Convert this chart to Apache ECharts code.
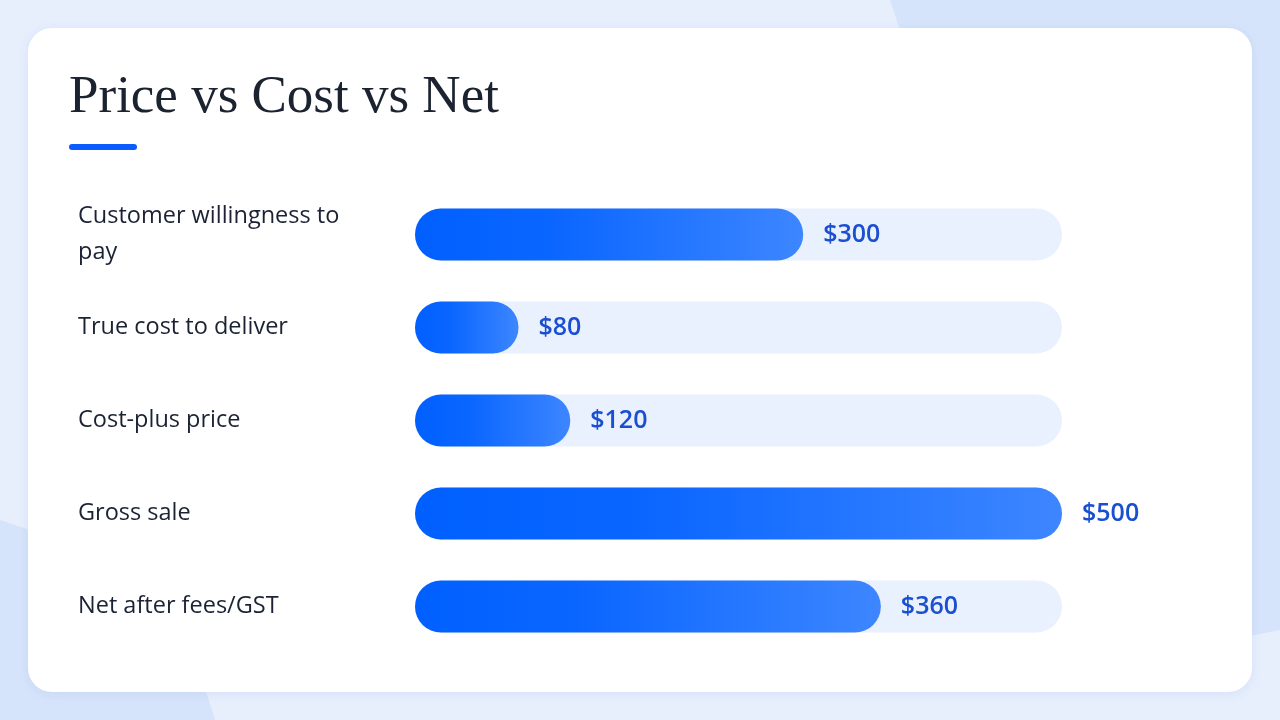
<!DOCTYPE html>
<html>
<head>
<meta charset="utf-8">
<script src="https://cdn.jsdelivr.net/npm/echarts@6/dist/echarts.min.js"></script>
<style>
  html,body{margin:0;padding:0;width:1280px;height:720px;overflow:hidden;background:#e7effd;}
  #chart{width:1280px;height:720px;}
</style>
</head>
<body>
<div id="chart"></div>
<script>
const title = 'Price vs Cost vs Net';
const categories = ['Customer willingness to pay', 'True cost to deliver', 'Cost-plus price', 'Gross sale', 'Net after fees/GST'];
const values = [300, 80, 120, 500, 360];
const axisMax = 500;

const chart = echarts.init(document.getElementById('chart'), null, {renderer: 'canvas'});
const labelFont = '"Open Sans", "Noto Sans", sans-serif';

const option = {
  animation: false,
  backgroundColor: '#e7effd',
  graphic: [
    {type: 'polygon', z: -10, silent: true, shape: {points: [[890,0],[1280,0],[1280,630],[1230,640],[1200,600],[1200,210],[1000,190],[930,120]]}, style: {fill: '#d6e4fb'}},
    {type: 'polygon', z: -10, silent: true, shape: {points: [[0,520],[120,560],[190,640],[215,720],[0,720]]}, style: {fill: '#d6e4fb'}},
    {type: 'rect', z: -5, silent: true, shape: {x: 28, y: 28, width: 1224, height: 664, r: 24},
      style: {fill: '#ffffff', shadowBlur: 12, shadowColor: 'rgba(40,80,160,0.08)', shadowOffsetY: 2}},
    {type: 'text', z: 10, left: 69, top: 72, silent: true,
      style: {text: title, font: '400 53px "Liberation Serif", "DejaVu Serif", serif', fill: '#1b2230'}},
    {type: 'rect', z: 10, silent: true, shape: {x: 69, y: 144, width: 68, height: 6, r: 3}, style: {fill: '#0a5cff'}}
  ],
  grid: {left: 415, right: 218, top: 188, height: 465, containLabel: false},
  xAxis: {type: 'value', min: 0, max: axisMax, show: false},
  yAxis: {
    type: 'category', data: categories, inverse: true,
    axisLine: {show: false}, axisTick: {show: false}, splitLine: {show: false},
    axisLabel: {
      align: 'left', margin: 337, color: '#1a2233', fontSize: 23.5, fontFamily: labelFont, fontWeight: 500,
      width: 300, overflow: 'break', lineHeight: 36
    }
  },
  series: [{
    type: 'bar', data: values, barWidth: 52,
    showBackground: true,
    backgroundStyle: {color: '#e9f1fe', borderRadius: 26},
    itemStyle: {
      borderRadius: 26,
      color: {type: 'linear', x: 0, y: 0, x2: 1, y2: 0, colorStops: [
        {offset: 0, color: '#0060ff'}, {offset: 0.35, color: '#0a66ff'}, {offset: 1, color: '#3d86ff'}
      ]}
    },
    label: {
      show: true, position: 'right', distance: 20,
      formatter: p => '$' + p.value,
      color: '#1a4fd0', fontSize: 25, fontWeight: 600, fontFamily: labelFont
    }
  }]
};
chart.setOption(option);
</script>
</body>
</html>
